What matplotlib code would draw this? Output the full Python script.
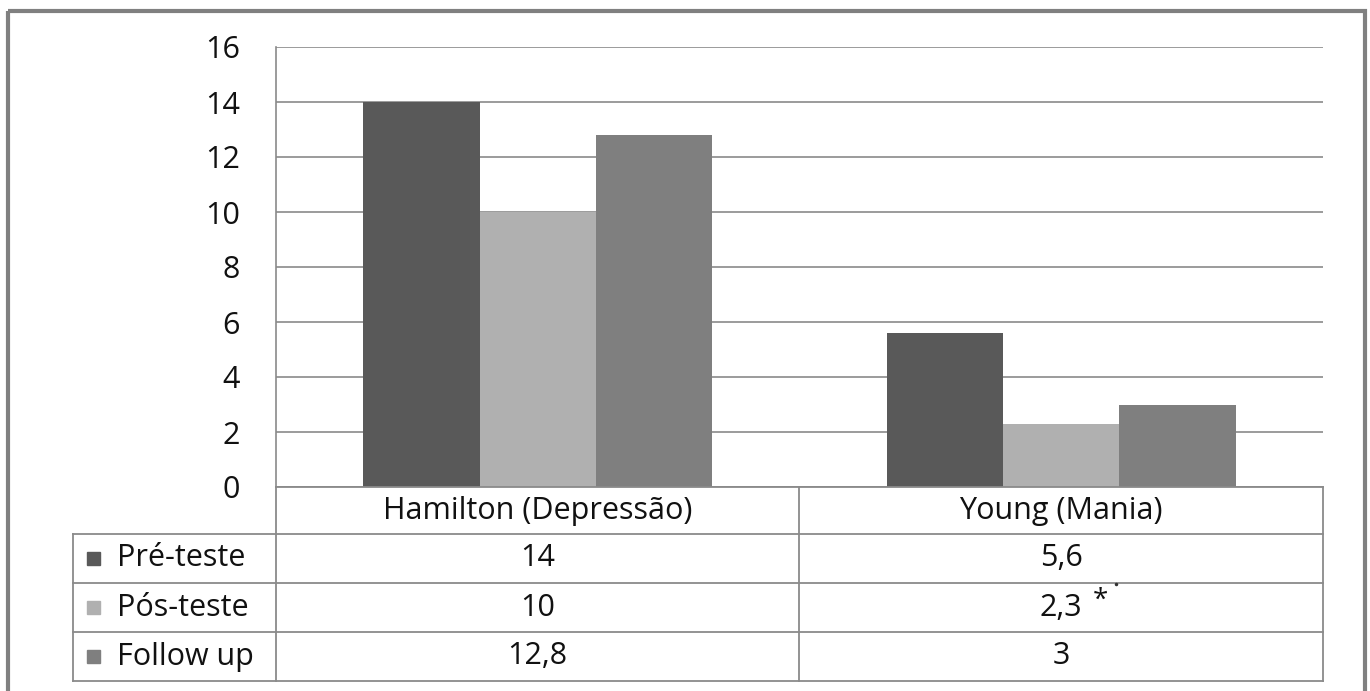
import matplotlib
matplotlib.use('Agg')
import matplotlib.pyplot as plt
import numpy as np
from matplotlib.patches import Rectangle

plt.rcParams['font.family'] = ['Open Sans', 'DejaVu Sans']

# dados das escalas
categorias = ['Hamilton (Depressão)', 'Young (Mania)']
series = ['Pré-teste', 'Pós-teste', 'Follow up']
pre_teste = [14, 5.6]
pos_teste = [10, 2.3]
follow_up = [12.8, 3]
# asterisco de significância (Pós-teste, Young)
marcas = [['', ''], ['', '*'], ['', '']]
cores = ['#595959', '#b0b0b0', '#7f7f7f']
yticks = [0, 2, 4, 6, 8, 10, 12, 14, 16]

valores = [pre_teste, pos_teste, follow_up]

W, H = 1370, 691
fig = plt.figure(figsize=(W / 100, H / 100), dpi=100)

# área do gráfico em pixels
x0, x1 = 276, 1323
y_top, y_zero = 47, 487
ax = fig.add_axes([x0 / W, 1 - y_zero / H, (x1 - x0) / W, (y_zero - y_top) / H])

n = len(series)
larg = 1 / (n + 1.5)
x = np.arange(len(categorias))
for i, (nome, vals) in enumerate(zip(series, valores)):
    ax.bar(x + (i - 1) * larg, vals, larg, color=cores[i], zorder=2)

fs = 22
ax.set_xlim(-0.5, len(categorias) - 0.5)
ax.set_ylim(0, 16)
ax.set_yticks(yticks)
ax.set_yticklabels([str(t) for t in yticks], fontsize=fs, color='#111111')
ax.tick_params(axis='y', length=0, pad=26)
ax.set_xticks([])
ax.yaxis.grid(True, color='#8a8a8a', linewidth=1.2, zorder=0)
for s in ['top', 'right', 'bottom']:
    ax.spines[s].set_visible(False)
ax.spines['left'].set_color('#8a8a8a')
ax.spines['left'].set_linewidth(1.2)

# camada em pixels para tabela e moldura
ov = fig.add_axes([0, 0, 1, 1], zorder=5)
ov.set_xlim(0, W)
ov.set_ylim(H, 0)
ov.axis('off')
ov.patch.set_alpha(0)

# moldura externa
ov.add_patch(Rectangle((8, 11), 1357, 700, fill=False, edgecolor='#808080', linewidth=3))

lc = '#8a8a8a'
lw = 1.3
div = (x0 + x1) / 2
linhas_y = [487, 534, 583, 632, 681]
ov.plot([x0, x1], [487, 487], color=lc, lw=lw)
for yy in linhas_y[1:]:
    ov.plot([73, x1], [yy, yy], color=lc, lw=lw)
ov.plot([73, 73], [534, 681], color=lc, lw=lw)
for xx in [x0, div, x1]:
    ov.plot([xx, xx], [487, 681], color=lc, lw=lw)

col_cx = [(x0 + div) / 2, (div + x1) / 2]
for j, cat in enumerate(categorias):
    ov.text(col_cx[j], 511, cat, ha='center', va='center', fontsize=fs, color='#111111')


def fmt(v):
    return ('%g' % v).replace('.', ',')


for i, (nome, vals) in enumerate(zip(series, valores)):
    yc = (linhas_y[i + 1] + linhas_y[i + 2]) / 2
    ov.add_patch(Rectangle((87, yc - 6.5), 13, 13, color=cores[i]))
    ov.text(117, yc, nome, ha='left', va='center', fontsize=fs, color='#111111')
    for j, v in enumerate(vals):
        ov.text(col_cx[j], yc, fmt(v), ha='center', va='center', fontsize=fs, color='#111111')
        if marcas[i][j]:
            ov.text(col_cx[j] + 39, yc - 7, marcas[i][j], ha='center', va='center',
                    fontsize=fs - 2, color='#111111')
            ov.plot([col_cx[j] + 55], [584], marker='o', ms=1.5, color='#333333')

fig.savefig('out.png', dpi=100, facecolor='white')
